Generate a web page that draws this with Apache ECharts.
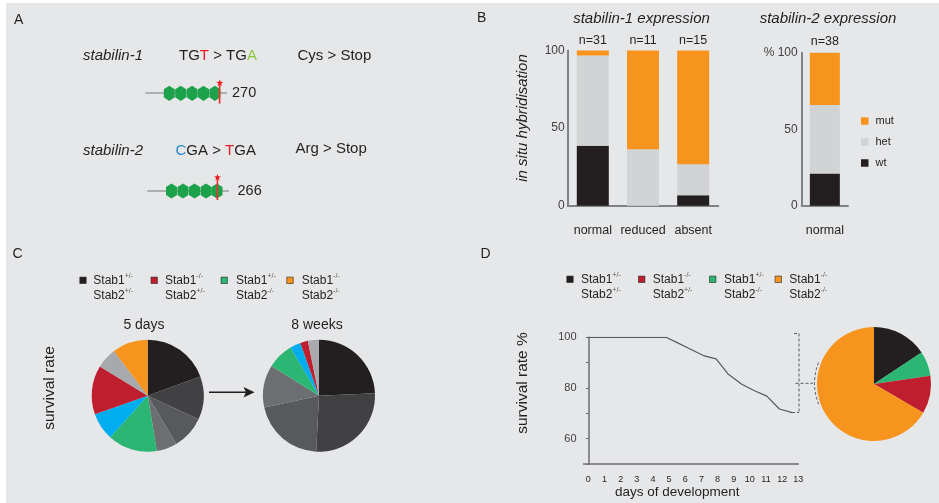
<!DOCTYPE html>
<html><head><meta charset="utf-8">
<script src="https://cdn.jsdelivr.net/npm/echarts@6/dist/echarts.min.js"></script>
<style>html,body{margin:0;padding:0;background:#fff}#c{width:939px;height:503px}</style>
</head><body><div id="c"></div>
<script>
// ---------- DATA ----------
// Panel B: stabilin-1 expression (percent of embryos per genotype)
const expCategories = ['normal', 'reduced', 'absent'];
const expCounts = ['n=31', 'n=11', 'n=15'];
const expWt = [38.7, 0, 6.7];
const expHet = [58.1, 36.4, 20.0];
const expMut = [3.2, 63.6, 73.3];
// Panel B: stabilin-2 expression
const stab2Categories = ['normal'];
const stab2Counts = ['n=38'];
const stab2Wt = [21.1];
const stab2Het = [44.7];
const stab2Mut = [34.2];
const bLegend = ['mut', 'het', 'wt'];

// Panel C: genotype distribution (percent)
const genotypeNames = ['Stab1+/- Stab2+/-', 'Stab1+/+ Stab2+/-', 'Stab1+/- Stab2+/+', 'Stab1+/+ Stab2+/+',
  'Stab1+/- Stab2-/-', 'Stab1+/+ Stab2-/-', 'Stab1-/- Stab2+/-', 'Stab1-/- Stab2+/+', 'Stab1-/- Stab2-/-'];
const pie5daysValues = [19.4, 12.5, 9.6, 5.9, 14.3, 7.9, 14.1, 6.0, 10.3];
const pie8weeksValues = [24.3, 26.5, 20.8, 12.3, 7.6, 3.1, 2.2, 3.2, 0];
const pieTitles = ['5 days', '8 weeks'];

// Legend (C and D)
const legendStab1 = ['+/-', '-/-', '+/-', '-/-'];
const legendStab2 = ['+/-', '+/-', '-/-', '-/-'];

// Panel D: survival curve
const survivalDays = [0, 4.81, 5.47, 6.30, 7.12, 7.91, 8.67, 9.50, 10.32, 11.05, 11.83, 12.63];
const survivalPct = [100, 100, 98.0, 95.4, 92.8, 91.5, 85.4, 81.5, 78.8, 76.8, 71.7, 70.3];
const dayTicks = [0,1,2,3,4,5,6,7,8,9,10,11,12,13];
const deadNames = ['Stab1+/- Stab2+/-', 'Stab1+/- Stab2-/-', 'Stab1-/- Stab2+/-', 'Stab1-/- Stab2-/-'];
const deadValues = [15.7, 7.0, 10.7, 66.6];

// ---------- STYLE ----------
const F = '"Liberation Sans", Arial, Helvetica, sans-serif';
const INK = '#231f20';
const C_WT = '#231f20', C_HET = '#d1d3d4', C_MUT = '#f7941d';
const pieColors = ['#231f20', '#414042', '#58595b', '#6d6e71', '#2bb673', '#00aeef', '#be1e2d', '#a7a9ac', '#f7941d'];
const legendColors = ['#231f20', '#be1e2d', '#2bb673', '#f7941d'];
const deadColors = ['#231f20', '#2bb673', '#be1e2d', '#f7941d'];
const AX = '#808285';

const g = [];
g.push({type: 'rect', z: -100, shape: {x: 6, y: 3, width: 933, height: 500}, style: {fill: '#e6e7e8'}});
function txt(x, y, text, size, opts) {
  opts = opts || {};
  g.push({type: 'text', x: x, y: y, rotation: opts.rot || 0, z: 50, style: Object.assign({
    text: text, font: (opts.italic ? 'italic ' : '') + size + 'px ' + F, fill: opts.fill || INK,
    textAlign: opts.align || 'left', textVerticalAlign: 'middle'
  }, opts.style || {})});
}
// Panel letters
txt(14, 20, 'A', 14); txt(477, 18, 'B', 14); txt(12.5, 254, 'C', 14); txt(480.5, 254, 'D', 14);

// ---------- Panel A ----------
const richBase = (c) => ({fontSize: 15, fontFamily: F, fill: c});
txt(83, 56, 'stabilin-1', 15, {italic: true});
txt(179, 56, '{k|TG}{r|T}{k| > TG}{gr|A}', 15, {style: {rich: {k: richBase(INK), r: richBase('#ed1c24'), gr: richBase('#8dc63f')}}});
txt(297.5, 56, 'Cys > Stop', 15);
txt(83, 151, 'stabilin-2', 15, {italic: true});
txt(175.5, 151, '{b|C}{k|GA > }{r|T}{k|GA}', 15, {style: {rich: {k: richBase(INK), r: richBase('#ed1c24'), b: richBase('#2b8cd0')}}});
txt(295.5, 149, 'Arg > Stop', 15);
txt(232, 93, '270', 14.5); txt(237.5, 191, '266', 14.5);

function hexes(cy, xs) {
  xs.forEach(cx => g.push({type: 'polygon', z: 20, shape: {points: [[cx, cy - 7.6], [cx + 5.5, cy - 4], [cx + 5.5, cy + 4], [cx, cy + 7.6], [cx - 5.5, cy + 4], [cx - 5.5, cy - 4]]}, style: {fill: '#1ba24b'}}));
}
function star(cx, cy, R, r) {
  const pts = [];
  for (let i = 0; i < 10; i++) {
    const a = -Math.PI / 2 + i * Math.PI / 5, rr = i % 2 ? r : R;
    pts.push([cx + rr * Math.cos(a), cy + rr * Math.sin(a)]);
  }
  g.push({type: 'polygon', z: 30, shape: {points: pts}, style: {fill: '#ed1c24'}});
}
g.push({type: 'line', z: 15, shape: {x1: 145.5, y1: 93, x2: 227, y2: 93}, style: {stroke: '#9a9b9d', lineWidth: 1.5}});
hexes(93.3, [169.3, 180.7, 192.1, 203.5, 214.9]);
g.push({type: 'line', z: 15, shape: {x1: 147.3, y1: 191, x2: 229, y2: 191}, style: {stroke: '#9a9b9d', lineWidth: 1.5}});
hexes(191, [171.5, 183, 194.5, 206, 217]);
g.push({type: 'rect', z: 28, shape: {x: 218.8, y: 83, width: 1.6, height: 20.5}, style: {fill: '#ff2a2a', stroke: null}});
g.push({type: 'rect', z: 28, shape: {x: 216.6, y: 178, width: 1.6, height: 22}, style: {fill: '#ff2a2a', stroke: null}});
star(219.8, 83, 3.6, 1.5);
star(217.5, 177.5, 3.6, 1.5);

// ---------- Panel B texts ----------
txt(641.5, 19, 'stabilin-1 expression', 15, {italic: true, align: 'center'});
txt(828, 19, 'stabilin-2 expression', 15, {italic: true, align: 'center'});
txt(523, 118, 'in situ hybridisation', 15, {italic: true, align: 'center', rot: Math.PI / 2});

// ---------- Panel C ----------
function legendRow(sqXs, txXs, y) {
  sqXs.forEach((sx, i) => {
    g.push({type: 'rect', z: 40, shape: {x: sx - 3.2, y: y - 3.2, width: 6.4, height: 6.4}, style: {fill: legendColors[i], stroke: INK, lineWidth: 0.6}});
    g.push({type: 'text', z: 50, x: txXs[i], y: y + 7.5, style: {
      text: 'Stab1{s|' + legendStab1[i] + '}\nStab2{s|' + legendStab2[i] + '}',
      font: '12px ' + F, fill: INK, lineHeight: 15, textAlign: 'left', textVerticalAlign: 'middle',
      rich: {s: {fontSize: 7, fontFamily: F, fill: '#555', verticalAlign: 'top', lineHeight: 15}}
    }});
  });
}
legendRow([83, 154.2, 224.2, 290], [93.3, 165, 236, 301.7], 280.3);
txt(144, 325, pieTitles[0], 14, {align: 'center'});
txt(317, 325, pieTitles[1], 14, {align: 'center'});
txt(49.5, 388, 'survival rate', 15.5, {align: 'center', rot: Math.PI / 2});
g.push({type: 'line', z: 20, shape: {x1: 209, y1: 392.3, x2: 247, y2: 392.3}, style: {stroke: INK, lineWidth: 1.5}});
g.push({type: 'polygon', z: 20, shape: {points: [[254.5, 392.3], [243.5, 387], [246, 392.3], [243.5, 397.6]]}, style: {fill: INK}});

// ---------- Panel D texts ----------
legendRow([570, 641.7, 712.7, 778.3], [581, 652.7, 724, 789.3], 279.3);
txt(522.5, 383, 'survival rate %', 15.5, {align: 'center', rot: Math.PI / 2});
txt(677.3, 492.5, 'days of development', 13.5, {align: 'center'});
const dash = {stroke: '#58595b', lineWidth: 1, lineDash: [3, 2]};
g.push({type: 'line', z: 20, shape: {x1: 799, y1: 333.5, x2: 799, y2: 412.5}, style: dash});
g.push({type: 'line', z: 20, shape: {x1: 794, y1: 333.5, x2: 799, y2: 333.5}, style: dash});
g.push({type: 'line', z: 20, shape: {x1: 792, y1: 412.5, x2: 799, y2: 412.5}, style: dash});
g.push({type: 'line', z: 20, shape: {x1: 795.5, y1: 383.3, x2: 813, y2: 383.3}, style: dash});
g.push({type: 'bezierCurve', z: 20, shape: {x1: 818.5, y1: 362.5, x2: 818.5, y2: 404, cpx1: 810.5, cpy1: 383.3}, style: Object.assign({fill: null}, dash)});

// ---------- CHART ----------
const axisTxt = {color: '#414042', fontFamily: F};
const option = {
  animation: false,
  backgroundColor: '#ffffff',
  textStyle: {fontFamily: F},
  graphic: {elements: g},
  legend: {
    data: bLegend, orient: 'vertical', left: 856, top: 110.5, itemWidth: 7.5, itemHeight: 7.5, itemGap: 10,
    icon: 'rect', selectedMode: false, textStyle: {fontSize: 11, color: INK, fontFamily: F, padding: [0, 0, 0, 2]}
  },
  grid: [
    {left: 567.7, top: 50.5, width: 150.6, height: 155.2, outerBoundsMode: 'none', containLabel: false},
    {left: 801.7, top: 52.7, width: 46.3, height: 153, outerBoundsMode: 'none', containLabel: false},
    {left: 583.5, top: 337.3, width: 214.8, height: 126.7, outerBoundsMode: 'none', containLabel: false}
  ],
  xAxis: [
    {type: 'category', gridIndex: 0, data: expCategories, axisLine: {lineStyle: {color: AX, width: 2}}, axisTick: {show: false},
      axisLabel: Object.assign({interval: 0, hideOverlap: false, margin: 18.5, fontSize: 12.5}, axisTxt, {color: INK})},
    {type: 'category', gridIndex: 0, position: 'top', data: expCounts, axisLine: {show: false}, axisTick: {show: false},
      axisLabel: Object.assign({interval: 0, hideOverlap: false, margin: 3, fontSize: 12.5}, axisTxt, {color: INK})},
    {type: 'category', gridIndex: 1, data: stab2Categories, axisLine: {lineStyle: {color: AX, width: 2}}, axisTick: {show: false},
      axisLabel: Object.assign({interval: 0, margin: 18.5, fontSize: 12.5}, axisTxt, {color: INK})},
    {type: 'category', gridIndex: 1, position: 'top', data: stab2Counts, axisLine: {show: false}, axisTick: {show: false},
      axisLabel: Object.assign({interval: 0, margin: 5, fontSize: 12.5}, axisTxt, {color: INK})},
    {type: 'value', gridIndex: 2, min: -0.3, max: 13, axisLine: {lineStyle: {color: '#6d6e71', width: 1.5}}, axisTick: {show: false},
      splitLine: {show: false}, axisLabel: Object.assign({customValues: dayTicks, hideOverlap: false, margin: 11, fontSize: 9}, axisTxt, {color: INK})}
  ],
  yAxis: [
    {type: 'value', gridIndex: 0, min: 0, max: 100, interval: 50, axisLine: {show: true, lineStyle: {color: AX, width: 2}},
      axisTick: {show: false}, splitLine: {show: false}, axisLabel: Object.assign({margin: 3, fontSize: 12}, axisTxt)},
    {type: 'value', gridIndex: 1, min: 0, max: 100, interval: 50, axisLine: {show: true, lineStyle: {color: AX, width: 2}},
      axisTick: {show: false}, splitLine: {show: false},
      axisLabel: Object.assign({margin: 4, fontSize: 12, formatter: v => v === 100 ? '% 100' : String(v)}, axisTxt)},
    {type: 'value', gridIndex: 2, min: 50, max: 100, interval: 10, axisLine: {show: true, lineStyle: {color: '#6d6e71', width: 1.5}},
      axisTick: {show: true, length: 2.5, lineStyle: {color: '#6d6e71'}}, splitLine: {show: false},
      axisLabel: Object.assign({margin: 7, fontSize: 11, formatter: v => (v === 60 || v === 80 || v === 100) ? String(v) : ''}, axisTxt)}
  ],
  series: [
    {name: 'wt', type: 'bar', xAxisIndex: 0, yAxisIndex: 0, stack: 's1', barWidth: 32, data: expWt, itemStyle: {color: C_WT}, silent: true},
    {name: 'het', type: 'bar', xAxisIndex: 0, yAxisIndex: 0, stack: 's1', barWidth: 32, data: expHet, itemStyle: {color: C_HET}, silent: true},
    {name: 'mut', type: 'bar', xAxisIndex: 0, yAxisIndex: 0, stack: 's1', barWidth: 32, data: expMut, itemStyle: {color: C_MUT}, silent: true},
    {name: 'wt', type: 'bar', xAxisIndex: 2, yAxisIndex: 1, stack: 's2', barWidth: 30, data: stab2Wt, itemStyle: {color: C_WT}, silent: true},
    {name: 'het', type: 'bar', xAxisIndex: 2, yAxisIndex: 1, stack: 's2', barWidth: 30, data: stab2Het, itemStyle: {color: C_HET}, silent: true},
    {name: 'mut', type: 'bar', xAxisIndex: 2, yAxisIndex: 1, stack: 's2', barWidth: 30, data: stab2Mut, itemStyle: {color: C_MUT}, silent: true},
    {type: 'pie', center: [147.7, 395.7], radius: 56, startAngle: 90, clockwise: true, silent: true,
      label: {show: false}, labelLine: {show: false},
      data: genotypeNames.map((n, i) => ({name: n, value: pie5daysValues[i], itemStyle: {color: pieColors[i]}}))},
    {type: 'pie', center: [319, 395.7], radius: 56, startAngle: 90, clockwise: true, silent: true,
      label: {show: false}, labelLine: {show: false},
      data: genotypeNames.map((n, i) => ({name: n, value: pie8weeksValues[i], itemStyle: {color: pieColors[i]}}))},
    {type: 'line', xAxisIndex: 4, yAxisIndex: 2, symbol: 'none', silent: true,
      lineStyle: {color: '#58595b', width: 1.2},
      data: survivalDays.map((d, i) => [d, survivalPct[i]])},
    {type: 'pie', center: [874, 384], radius: 57, startAngle: 90, clockwise: true, silent: true,
      label: {show: false}, labelLine: {show: false},
      data: deadNames.map((n, i) => ({name: n, value: deadValues[i], itemStyle: {color: deadColors[i]}}))}
  ]
};
const chart = echarts.init(document.getElementById('c'), null, {renderer: 'canvas'});
chart.setOption(option);
</script></body></html>
